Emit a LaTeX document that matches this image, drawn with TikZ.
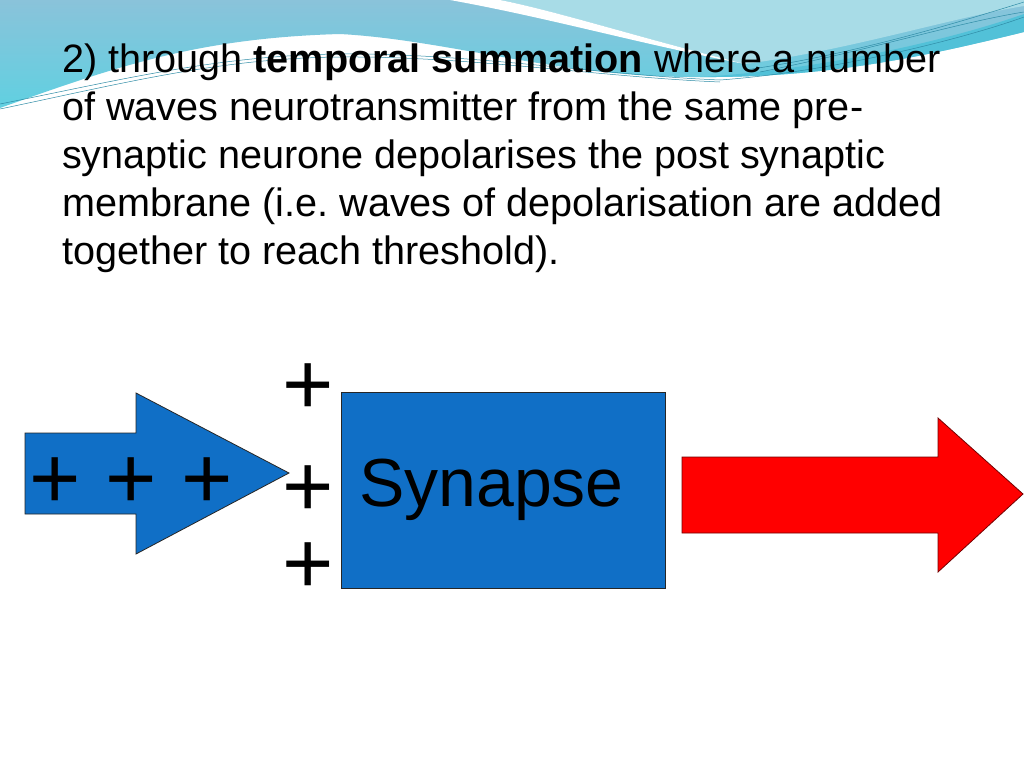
\documentclass[tikz,border=0pt]{standalone}
\usepackage{fontspec}
\setmainfont{Liberation Sans}
\usetikzlibrary{positioning}

\definecolor{skytop}{HTML}{8AC3DA}
\definecolor{skylow}{HTML}{60D0E1}
\definecolor{skylight}{HTML}{A8DCE7}
\definecolor{skyband}{HTML}{52C1D8}
\definecolor{waveline}{HTML}{2F8CA6}
\definecolor{synblue}{HTML}{106FC6}

\tikzset{
  slidetext/.style={anchor=base west,inner sep=0pt,align=left,font=\fontsize{39.6bp}{48bp}\selectfont\frenchspacing},
  plussign/.style={anchor=base,inner sep=0pt,font=\fontsize{88bp}{88bp}\selectfont},
  blueshape/.style={draw=black!85,line width=0.8bp,fill=synblue},
  redshape/.style={draw=red!45!black,line width=0.8bp,fill=red},
  wave/.style={draw=waveline,line width=0.5bp}
}

\begin{document}
\begin{tikzpicture}
\useasboundingbox (0,0) rectangle (1024bp,-768bp);
\fill[white] (0,0) rectangle (1024bp,-768bp);

% top waves
\shade[top color=skytop,bottom color=skylow] (0,0) -- (1024bp,0) -- (1024bp,-32bp)
  .. controls (930bp,-55bp) and (830bp,-78bp) .. (700bp,-77bp)
  .. controls (560bp,-78bp) and (450bp,-40bp) .. (340bp,-34bp)
  .. controls (200bp,-38bp) and (120bp,-65bp) .. (0,-108bp) -- cycle;
\fill[skylight] (500bp,0) .. controls (560bp,-12bp) and (640bp,-38bp) .. (745bp,-64bp)
  .. controls (850bp,-50bp) and (950bp,-18bp) .. (1024bp,-6bp) -- (1024bp,0) -- cycle;
\fill[skyband] (700bp,-77bp) .. controls (820bp,-70bp) and (950bp,-40bp) .. (1024bp,-14bp)
  -- (1024bp,-32bp) .. controls (930bp,-55bp) and (830bp,-78bp) .. (700bp,-77bp);
\fill[white] (450bp,0) .. controls (550bp,-18bp) and (640bp,-44bp) .. (745bp,-64bp)
  .. controls (640bp,-38bp) and (560bp,-12bp) .. (500bp,0) -- cycle;
\draw[wave] (0,-104bp) .. controls (120bp,-80bp) and (220bp,-55bp) .. (340bp,-54bp)
  .. controls (470bp,-53bp) and (600bp,-75bp) .. (720bp,-80bp);
\draw[wave] (0,-109bp) .. controls (120bp,-84bp) and (220bp,-58bp) .. (340bp,-57bp)
  .. controls (470bp,-56bp) and (600bp,-77bp) .. (720bp,-82bp);
\draw[wave] (745bp,-70bp) .. controls (850bp,-55bp) and (950bp,-25bp) .. (1024bp,-2bp);
\draw[wave] (760bp,-72bp) .. controls (870bp,-50bp) and (960bp,-22bp) .. (1024bp,-12bp);
\draw[wave] (720bp,-80bp) .. controls (830bp,-72bp) and (960bp,-40bp) .. (1024bp,-17bp);

% text (base is the last line)
\node (intro) [slidetext] at (62bp,-264bp) {2) through \textbf{temporal summation} where a number\\
of waves neurotransmitter from the same pre-\\
synaptic neurone depolarises the post synaptic\\
membrane (i.e. waves of depolarisation are added\\
together to reach threshold).};

% shapes
\draw[blueshape] (25bp,-433bp) -- (136bp,-433bp) -- (136bp,-393bp) -- (289bp,-473bp)
  -- (136bp,-554bp) -- (136bp,-514bp) -- (25bp,-514bp) -- cycle;
\node (syn) [blueshape,inner sep=0pt,minimum width=324bp,minimum height=196bp] at (503bp,-490bp) {};
\draw[redshape] (682bp,-457bp) -- (938bp,-457bp) -- (938bp,-418bp) -- (1023bp,-494bp)
  -- (938bp,-572bp) -- (938bp,-533bp) -- (682bp,-533bp) -- cycle;

\node (syntext) [anchor=base west,inner sep=0pt,font=\fontsize{68bp}{68bp}\selectfont] at (359bp,-506bp) {Synapse};
\node (incoming) [plussign] at (131bp,-508bp) {+ + +};
\node (plusA) [plussign] at (308bp,-414bp) {+};
\node (plusB) [plussign] at (308bp,-516bp) {+};
\node (plusC) [plussign] at (308bp,-593bp) {+};
\end{tikzpicture}
\end{document}
